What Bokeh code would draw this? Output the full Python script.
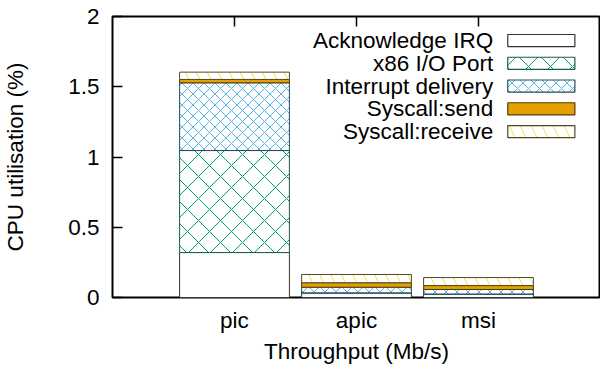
from bokeh.plotting import figure
from bokeh.models import ColumnDataSource, FixedTicker, Range1d
from bokeh.core.properties import value
from bokeh.embed import file_html
from bokeh.resources import INLINE
import numpy as np

# ---- data ----
categories = ["pic", "apic", "msi"]
series_names = ["Acknowledge IRQ", "x86 I/O Port", "Interrupt delivery",
                "Syscall:send", "Syscall:receive"]
ack_irq = [0.320, 0.033, 0.025]
x86_io_port = [0.726, 0.000, 0.000]
interrupt_delivery = [0.482, 0.040, 0.032]
syscall_send = [0.024, 0.032, 0.028]
syscall_receive = [0.052, 0.059, 0.057]
y_ticks = [0, 0.5, 1, 1.5, 2]
y_tick_labels = ["0", "0.5", "1", "1.5", "2"]

series = [ack_irq, x86_io_port, interrupt_delivery, syscall_send, syscall_receive]

# ---- styles ----
FONT = "Liberation Sans"
FS = "22.5px"
fills = ["white", "white", "white", "#e69f00", "white"]
hatches = [" ", "x", "x", " ", "\\"]
hatch_colors = ["black", "#009e73", "#56b4e9", "#e69f00", "#f0e442"]
hatch_scales = [12, 22, 11, 12, 22]
borders = ["#333333", "#1c5a45", "#244a5e", "#4d3d0a", "#4d4a20"]

p = figure(width=600, height=369, output_backend="svg", toolbar_location=None,
           x_range=Range1d(-1, 3), y_range=Range1d(0, 2),
           min_border_left=112, min_border_right=0, min_border_top=16,
           min_border_bottom=72)
p.background_fill_color = "white"
p.border_fill_color = "white"
p.xgrid.visible = False
p.ygrid.visible = False
p.outline_line_color = "black"
p.outline_line_width = 2

x = np.arange(len(categories))
bottom = np.zeros(len(categories))
for i, vals in enumerate(series):
    top = bottom + np.array(vals)
    src = ColumnDataSource(dict(x=x, bottom=bottom.copy(), top=top.copy()))
    kw = dict(fill_color=fills[i], line_color=borders[i], line_width=1)
    if hatches[i].strip():
        kw.update(hatch_pattern=hatches[i], hatch_color=hatch_colors[i],
                  hatch_scale=hatch_scales[i], hatch_weight=1)
    p.vbar(x="x", bottom="bottom", top="top", width=0.9, source=src, **kw)
    bottom = top

# top mirrored x tics
tick_len = 10 / 140.5
p.segment(x0=x, x1=x, y0=[2] * len(x), y1=[2 - tick_len] * len(x),
          line_color="black", line_width=1.5)

# ---- legend (gnuplot style: text right-aligned, sample box on right) ----
leg_text_x = 2.12
leg_box_l, leg_box_r = 2.24, 2.79
leg_y0, leg_dy, leg_h = 1.829, 0.162, 0.043
for i, name in enumerate(series_names):
    yc = leg_y0 - i * leg_dy
    p.text(x=[leg_text_x], y=[yc], text=[name], text_align="right",
           text_baseline="middle", text_font=value(FONT), text_font_size=FS,
           text_color="black")
    kw = dict(fill_color=fills[i], line_color=borders[i], line_width=1.2)
    if hatches[i].strip():
        kw.update(hatch_pattern=hatches[i], hatch_color=hatch_colors[i],
                  hatch_scale=hatch_scales[i], hatch_weight=1)
    p.quad(left=[leg_box_l], right=[leg_box_r], bottom=[yc - leg_h],
           top=[yc + leg_h], **kw)

# ---- axes ----
p.xaxis.ticker = FixedTicker(ticks=list(x))
p.xaxis.major_label_overrides = {int(i): c for i, c in zip(x, categories)}
p.yaxis.ticker = FixedTicker(ticks=y_ticks)
p.yaxis.major_label_overrides = {t: l for t, l in zip(y_ticks, y_tick_labels)}
for ax in (p.xaxis, p.yaxis):
    ax.axis_line_color = None
    ax.major_tick_out = 0
    ax.minor_tick_line_color = None
    ax.major_label_text_font = FONT
    ax.major_label_text_font_size = FS
    ax.major_label_text_color = "black"
    ax.axis_label_text_font = FONT
    ax.axis_label_text_font_size = FS
    ax.axis_label_text_font_style = "normal"
    ax.axis_label_text_color = "black"
p.xaxis.major_tick_in = 0
p.yaxis.major_tick_in = 10
p.yaxis.major_tick_line_width = 1.5
p.xaxis.major_label_standoff = 10
p.yaxis.major_label_standoff = 13
p.xaxis.axis_label = "Throughput (Mb/s)"
p.yaxis.axis_label = "CPU utilisation (%)"
p.xaxis.axis_label_standoff = 3
p.yaxis.axis_label_standoff = 37

open("out.html", "w").write(file_html(p, INLINE))
